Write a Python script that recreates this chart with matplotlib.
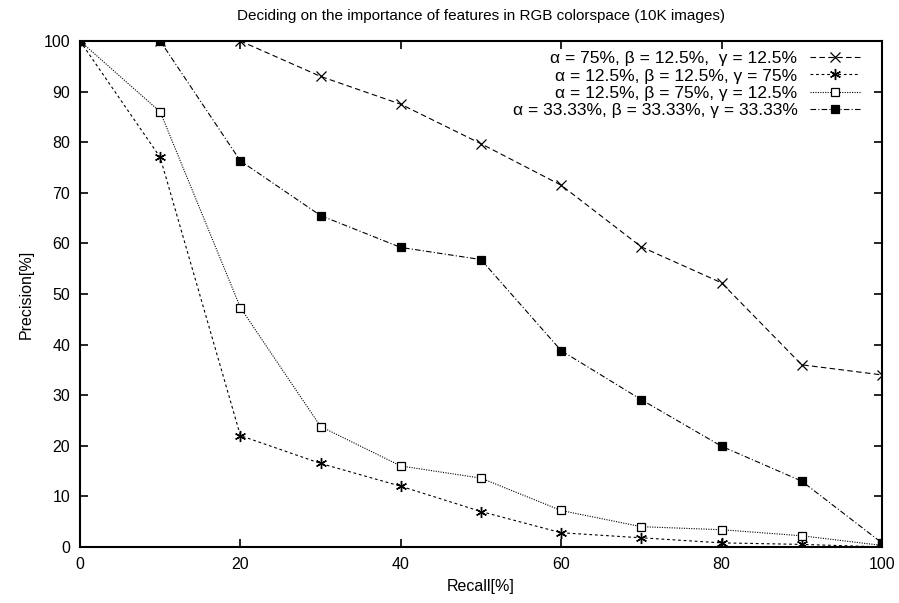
import numpy as np
import matplotlib
matplotlib.use("Agg")
import matplotlib.pyplot as plt

plt.rcParams['font.family'] = ['Liberation Sans', 'DejaVu Sans']

## DATA
recall = [0, 10, 20, 30, 40, 50, 60, 70, 80, 90, 100]
prec_a75 = [100, 100, 100, 93, 87.5, 79.7, 71.5, 59.3, 52.2, 36, 34]
prec_g75 = [100, 77, 22, 16.5, 12, 7, 2.8, 1.8, 0.8, 0.5, 0]
prec_b75 = [100, 86, 47.3, 23.8, 16, 13.6, 7.2, 4, 3.4, 2.2, 0.3]
prec_eq = [100, 100, 76.3, 65.5, 59.2, 56.8, 38.8, 29.1, 19.9, 13, 0.8]
labels = [u"\u03b1 = 75%, \u03b2 = 12.5%,  \u03b3 = 12.5%",
          u"\u03b1 = 12.5%, \u03b2 = 12.5%, \u03b3 = 75%",
          u"\u03b1 = 12.5%, \u03b2 = 75%, \u03b3 = 12.5%",
          u"\u03b1 = 33.33%, \u03b2 = 33.33%, \u03b3 = 33.33%"]

fig = plt.figure(figsize=(8.99, 6.03), dpi=100)
# axes box: x 80..882 px, y 41..547 px
ax = fig.add_axes([0.089, 0.093, 0.892, 0.839])

lw = 0.8
ax.plot(recall, prec_a75, color='black', lw=lw, ls=(0, (5, 3)),
        marker='x', ms=7.5, mew=0.9, label=labels[0])
ax.plot(recall, prec_g75, color='black', lw=lw, ls=(0, (2.5, 2.5)),
        marker=(6, 2, 0), ms=8, mew=1.0, label=labels[1])
ax.plot(recall, prec_b75, color='black', lw=lw, ls=(0, (1, 1.2)),
        marker='s', ms=5.5, mew=0.9, mfc='white', label=labels[2])
ax.plot(recall, prec_eq, color='black', lw=lw, ls=(0, (5, 2, 1, 2)),
        marker='s', ms=6, mew=0.9, mfc='black', label=labels[3])

ax.set_xlim(0, 100)
ax.set_ylim(0, 100)
ax.set_xticks(np.arange(0, 101, 20))
ax.set_yticks(np.arange(0, 101, 10))
ax.tick_params(direction='in', length=5.5, width=1.2, top=True, right=True,
               labelsize=11.5, pad=7)
for s in ax.spines.values():
    s.set_linewidth(1.5)

ax.set_xlabel('Recall[%]', fontsize=11.5, labelpad=5)
ax.set_ylabel('Precision[%]', fontsize=11.5, labelpad=7)
ax.set_title('Deciding on the importance of features in RGB colorspace (10K images)',
             fontsize=11, pad=15)

ax.legend(loc='upper right', bbox_to_anchor=(0.9726, 0.98), frameon=False,
          markerfirst=False, fontsize=12.5, handlelength=2.9,
          labelspacing=0.12, handletextpad=0.7, borderpad=0,
          borderaxespad=0)

fig.savefig('out.png', dpi=100)
